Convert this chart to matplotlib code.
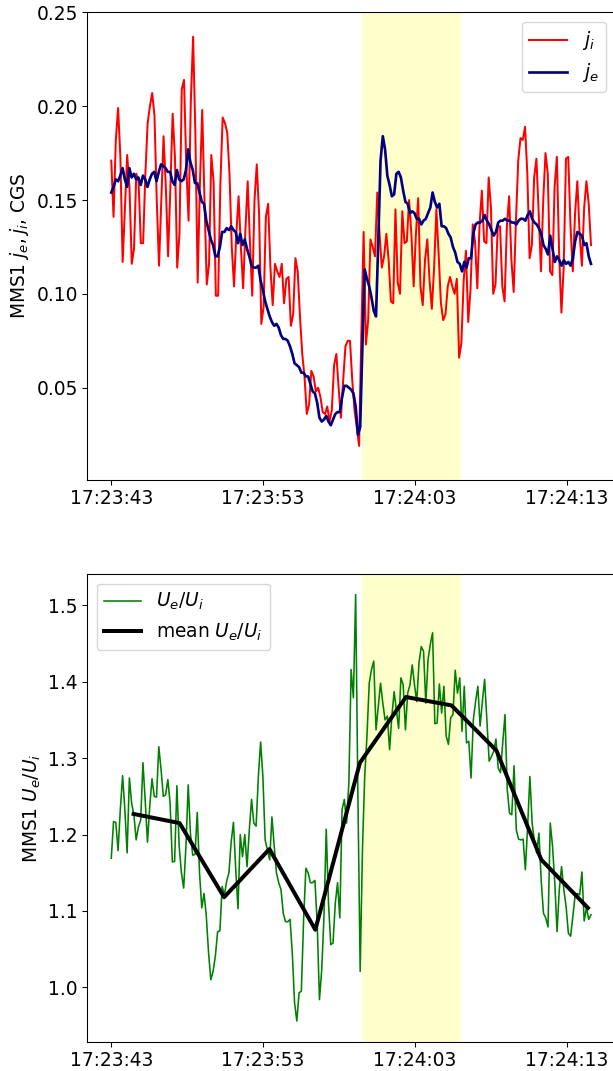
import numpy as np
import matplotlib
matplotlib.use('Agg')
from matplotlib import pyplot as plt
import matplotlib.dates as mdates
from datetime import datetime, timedelta

plt.rcParams['font.size'] = 14

T0 = datetime(2017, 1, 1, 17, 23, 43)
T_END = 31.6  # seconds after T0 of the last sample

# ion current density, CGS
j_i = [0.171, 0.141, 0.182, 0.199, 0.173, 0.117, 0.146, 0.174, 0.157, 0.116,
       0.124, 0.164, 0.160, 0.127, 0.127, 0.164, 0.191, 0.200, 0.207, 0.195,
       0.150, 0.115, 0.150, 0.184, 0.157, 0.120, 0.157, 0.196, 0.173, 0.114,
       0.132, 0.209, 0.214, 0.168, 0.139, 0.203, 0.237, 0.185, 0.106, 0.159,
       0.198, 0.150, 0.105, 0.116, 0.174, 0.160, 0.099, 0.099, 0.159, 0.194,
       0.191, 0.186, 0.164, 0.125, 0.104, 0.132, 0.152, 0.125, 0.103, 0.134,
       0.160, 0.127, 0.099, 0.150, 0.169, 0.143, 0.084, 0.093, 0.141, 0.148,
       0.114, 0.094, 0.116, 0.112, 0.109, 0.116, 0.095, 0.108, 0.109, 0.083,
       0.089, 0.119, 0.112, 0.088, 0.068, 0.056, 0.036, 0.041, 0.059, 0.056,
       0.048, 0.050, 0.045, 0.037, 0.036, 0.040, 0.032, 0.038, 0.062, 0.068,
       0.050, 0.034, 0.054, 0.072, 0.075, 0.075, 0.054, 0.038, 0.029, 0.019,
       0.079, 0.133, 0.073, 0.086, 0.129, 0.125, 0.120, 0.154, 0.132, 0.114,
       0.120, 0.132, 0.118, 0.096, 0.095, 0.145, 0.106, 0.100, 0.144, 0.127,
       0.128, 0.150, 0.132, 0.104, 0.132, 0.151, 0.104, 0.094, 0.118, 0.129,
       0.107, 0.092, 0.114, 0.145, 0.121, 0.095,
       0.086, 0.089, 0.104, 0.109, 0.104, 0.100, 0.108, 0.066, 0.074, 0.107,
       0.123, 0.085, 0.102, 0.137, 0.128, 0.103, 0.137, 0.155, 0.128, 0.127,
       0.162, 0.146, 0.100, 0.105, 0.136, 0.136, 0.104, 0.096, 0.136, 0.152,
       0.118, 0.101, 0.139, 0.171, 0.183, 0.182, 0.189, 0.164, 0.119, 0.126,
       0.162, 0.172, 0.143, 0.112, 0.150, 0.175, 0.164, 0.112, 0.110, 0.157,
       0.173, 0.121, 0.090, 0.114, 0.172, 0.173, 0.136, 0.112, 0.143, 0.160,
       0.132, 0.115, 0.146, 0.160, 0.148, 0.126]

# electron current density, CGS
j_e = [0.154, 0.157, 0.161, 0.160, 0.163, 0.167, 0.161, 0.157, 0.167, 0.162,
       0.164, 0.161, 0.162, 0.158, 0.163, 0.161, 0.157, 0.161, 0.164, 0.165,
       0.160, 0.165, 0.169, 0.168, 0.167, 0.165, 0.165, 0.160, 0.158, 0.166,
       0.161, 0.160, 0.161, 0.166, 0.177, 0.170, 0.166, 0.159, 0.159, 0.154,
       0.149, 0.148, 0.139, 0.134, 0.129, 0.126, 0.120, 0.120, 0.125, 0.133,
       0.133, 0.135, 0.134, 0.136, 0.134, 0.133, 0.127, 0.132, 0.126, 0.129,
       0.124, 0.120,
       0.115, 0.114, 0.114, 0.115,
       0.107, 0.102, 0.096, 0.092, 0.088, 0.085, 0.083, 0.084, 0.082, 0.078,
       0.076, 0.076, 0.075, 0.072, 0.068, 0.063, 0.062, 0.061, 0.058, 0.058,
       0.056, 0.056, 0.052, 0.048, 0.047, 0.042, 0.034, 0.032, 0.033, 0.035,
       0.032, 0.030, 0.033, 0.036, 0.037, 0.037, 0.045, 0.051, 0.051, 0.050,
       0.049, 0.047, 0.040, 0.025, 0.029, 0.073, 0.113, 0.108, 0.104, 0.098,
       0.091, 0.088, 0.128, 0.171, 0.184, 0.177, 0.163, 0.158, 0.152, 0.153,
       0.164, 0.165, 0.162, 0.155, 0.149, 0.148, 0.143, 0.144, 0.143, 0.140,
       0.140, 0.137, 0.139, 0.140, 0.143,
       0.146, 0.154, 0.149, 0.146, 0.148, 0.136, 0.136, 0.135, 0.132, 0.130,
       0.125, 0.122, 0.117, 0.116, 0.112, 0.117, 0.114, 0.119, 0.119, 0.132,
       0.137, 0.138, 0.138, 0.139, 0.142, 0.139, 0.137, 0.134, 0.131, 0.133,
       0.138, 0.139, 0.139, 0.140, 0.139, 0.139, 0.138, 0.138, 0.137, 0.139,
       0.140, 0.140, 0.139, 0.142, 0.144, 0.140, 0.138, 0.137, 0.135, 0.132,
       0.126, 0.124, 0.121, 0.131, 0.124, 0.117, 0.120, 0.118, 0.115, 0.118,
       0.116, 0.117, 0.115, 0.119, 0.128, 0.133, 0.132, 0.131, 0.126, 0.127,
       0.120, 0.116]

# Ue/Ui ratio
ratio = [1.169, 1.217, 1.216, 1.179, 1.233, 1.277, 1.233, 1.176, 1.274, 1.241,
         1.226, 1.193, 1.210, 1.219, 1.294, 1.244, 1.190, 1.237, 1.273, 1.250,
         1.249, 1.315, 1.285, 1.250, 1.252, 1.272, 1.241, 1.164, 1.165, 1.264,
         1.185, 1.150, 1.130, 1.185, 1.265, 1.201, 1.173, 1.174, 1.229, 1.150,
         1.104, 1.123, 1.093, 1.045, 1.010, 1.021, 1.041, 1.073, 1.074, 1.132,
         1.121, 1.139, 1.150, 1.191, 1.216, 1.154, 1.103, 1.200, 1.171, 1.200,
         1.158, 1.206,
         1.246, 1.215, 1.211, 1.276,
         1.321, 1.276, 1.193, 1.180, 1.167, 1.223, 1.185, 1.150, 1.137, 1.128,
         1.097, 1.086, 1.086, 1.089, 1.045, 0.980, 0.956, 0.993, 0.995, 1.089,
         1.156, 1.150, 1.137, 1.137, 1.140, 1.084, 0.984, 1.023, 1.093, 1.207,
         1.110, 1.056, 1.058, 1.110, 1.137, 1.091, 1.233, 1.246, 1.215, 1.268,
         1.416, 1.379, 1.514, 1.250, 1.021, 1.180, 1.276, 1.329, 1.398, 1.416,
         1.427, 1.337, 1.368, 1.398, 1.372, 1.350, 1.355, 1.311, 1.355, 1.387,
         1.363, 1.339, 1.405, 1.396, 1.337, 1.385, 1.396, 1.422, 1.396, 1.374,
         1.425, 1.446, 1.440, 1.372, 1.429,
         1.449, 1.464, 1.345, 1.346, 1.397, 1.359, 1.394, 1.329, 1.318, 1.353,
         1.357, 1.415, 1.385, 1.405, 1.335, 1.394, 1.320, 1.322, 1.274, 1.350,
         1.374, 1.394, 1.342, 1.374, 1.403, 1.350, 1.296, 1.302, 1.309, 1.325,
         1.287, 1.281, 1.320, 1.357, 1.259, 1.228, 1.226, 1.290, 1.206, 1.194,
         1.193, 1.194, 1.154, 1.210, 1.276, 1.215, 1.191, 1.176, 1.202, 1.140,
         1.097, 1.091, 1.079, 1.215, 1.185, 1.137, 1.073, 1.128, 1.158, 1.128,
         1.106, 1.071, 1.067, 1.093, 1.121, 1.123, 1.121, 1.151, 1.087, 1.104,
         1.089, 1.095]

# 3 s means of Ue/Ui
mean_t = [1.47, 4.50, 7.43, 10.42, 13.44, 16.38, 19.41, 22.41, 25.37, 28.33, 31.40]
mean_ratio = [1.227, 1.215, 1.118, 1.181, 1.0755, 1.294, 1.380, 1.369, 1.310, 1.167, 1.104]

span_start, span_end = 16.52, 23.04


def to_time(sec):
    return [T0 + timedelta(seconds=float(s)) for s in sec]


t_i = to_time(np.linspace(0, T_END, len(j_i)))
t_e = to_time(np.linspace(0, T_END, len(j_e)))
t_r = to_time(np.linspace(0, T_END, len(ratio)))
t_m = to_time(mean_t)

DPI = 96
fig = plt.figure(figsize=(613 / DPI, 1071 / DPI), dpi=DPI)
ax1 = fig.add_axes([0.1424, 0.5521, 0.8613, 0.4364])
ax2 = fig.add_axes([0.1424, 0.0274, 0.8613, 0.4364])

for ax in (ax1, ax2):
    ax.axvspan(T0 + timedelta(seconds=span_start), T0 + timedelta(seconds=span_end),
               color='yellow', alpha=0.2, lw=0)

ax1.plot(t_i, j_i, color='red', lw=1.5, label='$j_i$')
ax1.plot(t_e, j_e, color='navy', lw=2, label='$j_e$')
ax1.set_ylim(0.001, 0.25)
ax1.set_ylabel('MMS1 $j_e, j_i$, CGS')
ax1.legend(loc='upper right')

ax2.plot(t_r, ratio, color='green', lw=1.2, label='$U_e/U_i$')
ax2.plot(t_m, mean_ratio, color='black', lw=3, label='mean $U_e/U_i$')
ax2.set_ylim(0.929, 1.5406)
ax2.set_ylabel('MMS1 $U_e/U_i$')
ax2.legend(loc='upper left')

for ax in (ax1, ax2):
    ax.set_xlim(T0 + timedelta(seconds=-1.58), T0 + timedelta(seconds=33.2))
    ax.xaxis.set_major_locator(mdates.SecondLocator(bysecond=range(3, 60, 10)))
    ax.xaxis.set_major_formatter(mdates.DateFormatter('%H:%M:%S'))

fig.savefig('out.png', dpi=DPI)
